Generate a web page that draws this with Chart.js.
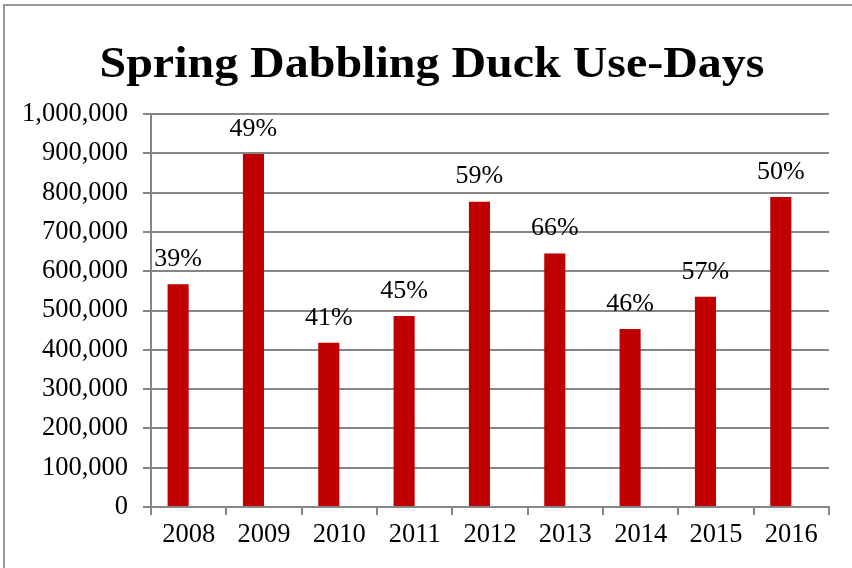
<!DOCTYPE html>
<html>
<head>
<meta charset="utf-8">
<script src="https://cdn.jsdelivr.net/npm/chart.js@4"></script>
<style>
    html, body { margin: 0; padding: 0; background: #fff; }
    .wrap { position: relative; width: 852px; height: 568px; overflow: hidden; }
    .frame {
        position: absolute; left: 3px; top: 4px; width: 900px; height: 700px;
        border-left: 2px solid #999; border-top: 2px solid #999;
    }
    canvas { position: absolute; left: 0; top: 0; }
</style>
</head>
<body>
<div class="wrap">
    <div class="frame"></div>
    <canvas id="duckChart" width="852" height="568"></canvas>
</div>
<script>
const chartTitle = 'Spring Dabbling Duck Use-Days';
const years = ['2008', '2009', '2010', '2011', '2012', '2013', '2014', '2015', '2016'];
const useDays = [567000, 898000, 418000, 486000, 777000, 645000, 453000, 535000, 789000];
const pctLabels = ['39%', '49%', '41%', '45%', '59%', '66%', '46%', '57%', '50%'];
// the original has an empty second series, so each bar sits left of its category centre
const emptySeries = [null, null, null, null, null, null, null, null, null];

const serif = "'Liberation Serif', 'Times New Roman', serif";

/* --- labels above the bars --- */
const barLabels = {
    id: 'barLabels',
    afterDatasetsDraw(chart) {
        const { ctx } = chart;
        const meta = chart.getDatasetMeta(0);
        ctx.save();
        ctx.font = '26px ' + serif;
        ctx.fillStyle = '#000';
        ctx.textAlign = 'center';
        ctx.textBaseline = 'middle';
        meta.data.forEach((bar, i) => {
            ctx.fillText(pctLabels[i], bar.x, bar.y - 25);
        });
        ctx.restore();
    }
};

/* --- title, slightly stretched like the original --- */
const wideTitle = {
    id: 'wideTitle',
    afterDraw(chart) {
        const { ctx } = chart;
        ctx.save();
        ctx.font = 'bold 45px ' + serif;
        ctx.fillStyle = '#000';
        ctx.textAlign = 'center';
        ctx.textBaseline = 'alphabetic';
        const w = ctx.measureText(chartTitle).width;
        ctx.translate(432, 77);
        ctx.scale(665 / w, 1);
        ctx.fillText(chartTitle, 0, 0);
        ctx.restore();
    }
};

const ctx = document.getElementById('duckChart').getContext('2d');
new Chart(ctx, {
    type: 'bar',
    data: {
        labels: years,
        datasets: [
            {
                data: useDays,
                backgroundColor: '#c00000',
                borderWidth: 0,
                barPercentage: 1,
                categoryPercentage: 0.56
            },
            {
                data: emptySeries,
                backgroundColor: 'transparent',
                borderWidth: 0,
                barPercentage: 1,
                categoryPercentage: 0.56
            }
        ]
    },
    options: {
        responsive: false,
        animation: false,
        layout: { padding: { left: 0, right: 23, top: 114, bottom: 0 } },
        plugins: {
            legend: { display: false },
            tooltip: { enabled: false },
            title: { display: false }
        },
        scales: {
            x: {
                grid: {
                    display: true,
                    drawOnChartArea: false,
                    color: '#868686',
                    lineWidth: 2,
                    tickLength: 8,
                    offset: true
                },
                border: { color: '#868686', width: 2 },
                ticks: { color: '#000', font: { family: serif, size: 26.5 }, padding: 4 },
                afterFit: s => { s.height = 61; }
            },
            y: {
                min: 0,
                max: 1000000,
                grid: { color: '#868686', lineWidth: 2, tickLength: 8 },
                border: { color: '#868686', width: 2 },
                ticks: {
                    stepSize: 100000,
                    color: '#000',
                    font: { family: serif, size: 26.5 },
                    padding: 15,
                    callback: v => v.toLocaleString('en-US')
                },
                afterFit: s => { s.width = 151; }
            }
        }
    },
    plugins: [barLabels, wideTitle]
});
</script>
</body>
</html>
